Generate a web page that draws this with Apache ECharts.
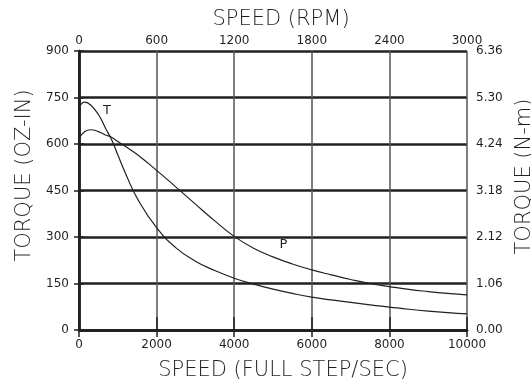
<!DOCTYPE html>
<html>
<head>
<meta charset="utf-8">
<script src="https://cdn.jsdelivr.net/npm/echarts@6/dist/echarts.min.js"></script>
<style>
  html, body { margin: 0; padding: 0; background: #fff; }
  #main { width: 531px; height: 384px; }
</style>
</head>
<body>
<div id="main"></div>
<script>
// speed in full steps / sec
const speeds = [0, 150, 300, 500, 700, 800, 900, 1000, 1200, 1500, 2000, 2500, 3000, 3500,
  4000, 4500, 5000, 5500, 6000, 6500, 7000, 7500, 8000, 8500, 9000, 9500, 10000];
// torque curve "T" (oz-in)
const torqueT = [718, 735, 726, 695, 647, 624, 597, 565, 505, 425, 330, 265, 222, 192,
  167, 148, 132, 118, 106, 97, 89, 81, 74, 67, 61, 56, 52];
// curve "P" (oz-in)
const torqueP = [618, 640, 646, 640, 628, 624, 617, 608, 592, 566, 515, 461, 406, 352,
  302, 264, 236, 213, 194, 178, 163, 150, 140, 131, 124, 118, 113];

const dark = '#231f20';
const font = 'DejaVu Sans';

let chart = echarts.init(document.getElementById('main'));

function toPairs(ys) {
  return speeds.map((s, i) => [s, ys[i]]);
}

// axis titles use a lighter weight, like the original artwork
const nameStyle = (pad) => ({
  fontFamily: font, fontSize: 21, fontWeight: 200, color: dark, padding: pad
});
const tickLabel = (margin, extra) => Object.assign({
  margin: margin, fontFamily: font, fontSize: 12, color: dark,
  formatter: v => String(v)
}, extra || {});

let option = {
  backgroundColor: '#fff',
  animation: false,
  // the right title runs off the edge in the original, so don't let the grid shrink
  grid: { left: 79, right: 64, top: 51, bottom: 54, outerBoundsMode: 'none', containLabel: false },
  xAxis: [
    {
      type: 'value', position: 'bottom', min: 0, max: 10000, interval: 2000,
      name: 'SPEED (FULL STEP/SEC)', nameLocation: 'middle', nameGap: 30,
      nameTextStyle: nameStyle([0, 0, 0, 20]),
      axisLine: { show: true, lineStyle: { color: dark, width: 2.5 } },
      axisTick: { show: true, length: 7, lineStyle: { color: dark, width: 1.5 } },
      axisLabel: tickLabel(9),
      splitLine: { show: true, lineStyle: { color: '#555', width: 1.5 } }
    },
    {
      type: 'value', position: 'top', min: 0, max: 3000, interval: 600,
      name: 'SPEED (RPM)', nameLocation: 'middle', nameGap: 21,
      nameTextStyle: nameStyle([0, 0, 0, 16]),
      axisLine: { show: true, lineStyle: { color: dark, width: 2.5 } },
      axisTick: { show: true, length: 13, lineStyle: { color: dark, width: 1.5 } },
      axisLabel: tickLabel(4),
      splitLine: { show: false }
    }
  ],
  yAxis: [
    {
      type: 'value', position: 'left', min: 0, max: 900, interval: 150,
      name: 'TORQUE (OZ-IN)', nameLocation: 'middle', nameGap: 44, nameRotate: 90,
      nameTextStyle: nameStyle([0, 0, 0, 30]),
      axisLine: { show: true, lineStyle: { color: dark, width: 2.5 } },
      axisTick: { show: true, length: 5, lineStyle: { color: dark, width: 1.5 } },
      axisLabel: tickLabel(10),
      splitLine: { show: true, lineStyle: { color: dark, width: 2.5 } }
    },
    {
      type: 'value', position: 'right', min: 0, max: 6.36, interval: 1.06,
      name: 'TORQUE (N-m)', nameLocation: 'middle', nameGap: 46, nameRotate: 90,
      nameTextStyle: nameStyle([0, 0, 0, 28]),
      axisLine: { show: true, lineStyle: { color: dark, width: 2.5 } },
      axisTick: { show: true, length: 5, lineStyle: { color: dark, width: 1.5 } },
      axisLabel: tickLabel(9, { formatter: v => v.toFixed(2) }),
      splitLine: { show: false }
    }
  ],
  series: [
    {
      name: 'T', type: 'line', smooth: true, showSymbol: false,
      xAxisIndex: 0, yAxisIndex: 0,
      lineStyle: { color: dark, width: 1.2 },
      data: toPairs(torqueT),
      markPoint: {
        symbol: 'rect', symbolSize: 1, itemStyle: { color: 'transparent' },
        label: { show: true, position: 'inside', formatter: 'T', fontFamily: font, fontSize: 13, color: dark },
        data: [{ coord: [720, 708] }]
      }
    },
    {
      name: 'P', type: 'line', smooth: true, showSymbol: false,
      xAxisIndex: 0, yAxisIndex: 0,
      lineStyle: { color: dark, width: 1.2 },
      data: toPairs(torqueP),
      markPoint: {
        symbol: 'rect', symbolSize: 1, itemStyle: { color: 'transparent' },
        label: { show: true, position: 'inside', formatter: 'P', fontFamily: font, fontSize: 13, color: dark },
        data: [{ coord: [5270, 274] }]
      }
    }
  ]
};

option && chart.setOption(option);
</script>
</body>
</html>
